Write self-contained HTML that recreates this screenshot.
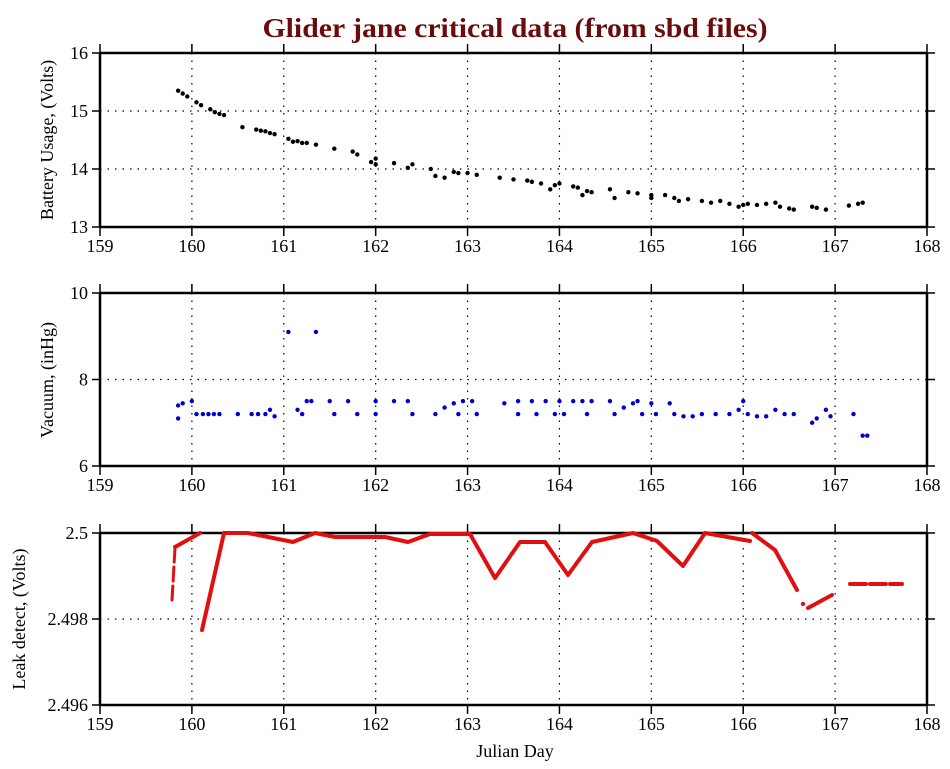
<!DOCTYPE html>
<html><head><meta charset="utf-8"><style>
html,body{margin:0;padding:0;background:#fff;}
svg{display:block;font-family:"Liberation Serif",serif;}
</style></head><body>
<svg id="s" width="950" height="769" viewBox="0 0 950 769" xmlns="http://www.w3.org/2000/svg">
<text x="515" y="37" text-anchor="middle" font-size="27" font-weight="bold" fill="#6b0c0c" textLength="505" lengthAdjust="spacingAndGlyphs">Glider jane critical data (from sbd files)</text>
<g id="g"></g>
<text x="515" y="757" text-anchor="middle" font-size="18">Julian Day</text>
<text transform="translate(53,140) rotate(-90)" text-anchor="middle" font-size="18">Battery Usage, (Volts)</text>
<text transform="translate(53,380) rotate(-90)" text-anchor="middle" font-size="18">Vacuum, (inHg)</text>
<text transform="translate(25,619) rotate(-90)" text-anchor="middle" font-size="18">Leak detect, (Volts)</text>
</svg>
<script>
const NS="http://www.w3.org/2000/svg",G=document.getElementById('g');
function el(t,a,txt){const e=document.createElementNS(NS,t);for(const k in a)e.setAttribute(k,a[k]);if(txt!==undefined)e.textContent=txt;G.appendChild(e);return e;}
const X0=100,X1=927,xs=d=>X0+(d-159)*(X1-X0)/9;
function panel(top,bot,ylabs){
  // grid
  for(let d=160;d<=167;d++)el('line',{x1:xs(d),x2:xs(d),y1:top,y2:bot,stroke:'#000','stroke-width':1.2,'stroke-dasharray':'1.5,6'});
  const n=ylabs.length-1;
  ylabs.forEach((l,i)=>{const y=bot-(bot-top)*i/n;
    if(i>0&&i<n)el('line',{x1:X0,x2:X1,y1:y,y2:y,stroke:'#000','stroke-width':1.2,'stroke-dasharray':'1.5,6'});
    el('line',{x1:X0-8,x2:X0,y1:y,y2:y,stroke:'#000','stroke-width':1.5});
    el('line',{x1:X1,x2:X1+8,y1:y,y2:y,stroke:'#000','stroke-width':1.5});
    el('text',{x:X0-12,y:y+6,'text-anchor':'end','font-size':18},l);
  });
  for(let d=159;d<=168;d++){const x=xs(d);
    el('line',{x1:x,x2:x,y1:top-9,y2:top,stroke:'#000','stroke-width':1.5});
    el('line',{x1:x,x2:x,y1:bot,y2:bot+9,stroke:'#000','stroke-width':1.5});
    el('text',{x:x,y:bot+25,'text-anchor':'middle','font-size':18},d);
  }
  el('line',{x1:X0,x2:X1,y1:top,y2:top,stroke:'#000','stroke-width':2.5});
  el('line',{x1:X0,x2:X1,y1:bot,y2:bot,stroke:'#000','stroke-width':2.5});
  el('line',{x1:X0,x2:X0,y1:top,y2:bot,stroke:'#000','stroke-width':2.5});
  el('line',{x1:X1,x2:X1,y1:top,y2:bot,stroke:'#000','stroke-width':2.5});
}
panel(53,227,['13','14','15','16']);
panel(293,466,['6','8','10']);
panel(533,705,['2.496','2.498','2.5']);
const bat=[[159.85,15.35],[159.9,15.3],[159.95,15.25],[160.05,15.15],[160.1,15.1],[160.2,15.03],[160.25,14.98],[160.3,14.95],[160.35,14.93],[160.55,14.72],[160.7,14.68],[160.75,14.66],[160.8,14.65],[160.85,14.62],[160.9,14.6],[161.05,14.52],[161.1,14.47],[161.15,14.48],[161.2,14.45],[161.25,14.45],[161.35,14.42],[161.55,14.35],[161.75,14.3],[161.8,14.25],[161.95,14.12],[162,14.18],[162,14.08],[162.2,14.1],[162.35,14.02],[162.4,14.08],[162.6,14.0],[162.65,13.88],[162.75,13.85],[162.85,13.95],[162.9,13.93],[163,13.93],[163.1,13.9],[163.35,13.85],[163.5,13.82],[163.65,13.8],[163.7,13.78],[163.8,13.75],[163.9,13.65],[163.95,13.72],[164,13.75],[164.15,13.7],[164.2,13.68],[164.25,13.55],[164.3,13.62],[164.35,13.6],[164.55,13.65],[164.6,13.5],[164.75,13.6],[164.85,13.58],[165,13.5],[165,13.55],[165.15,13.55],[165.25,13.5],[165.3,13.45],[165.4,13.48],[165.55,13.45],[165.65,13.42],[165.75,13.45],[165.85,13.4],[165.95,13.35],[166,13.38],[166.05,13.4],[166.15,13.38],[166.25,13.4],[166.35,13.42],[166.4,13.35],[166.5,13.32],[166.55,13.3],[166.75,13.35],[166.8,13.33],[166.9,13.3],[167.15,13.37],[167.25,13.4],[167.3,13.42]];
bat.forEach(([d,v])=>el('circle',{cx:xs(d),cy:227-(v-13)*58,r:2.2,fill:'#000'}));
const vac=[[159.85,7.4],[159.85,7.1],[159.9,7.45],[160,7.5],[160.05,7.2],[160.12,7.2],[160.18,7.2],[160.24,7.2],[160.3,7.2],[160.5,7.2],[160.65,7.2],[160.72,7.2],[160.8,7.2],[160.85,7.3],[160.9,7.15],[161.05,9.1],[161.35,9.1],[161.15,7.3],[161.2,7.2],[161.25,7.5],[161.3,7.5],[161.5,7.5],[161.55,7.2],[161.7,7.5],[161.8,7.2],[162,7.5],[162,7.2],[162.2,7.5],[162.35,7.5],[162.4,7.2],[162.65,7.2],[162.75,7.35],[162.85,7.45],[162.9,7.2],[162.95,7.5],[163.05,7.5],[163.1,7.2],[163.4,7.45],[163.55,7.5],[163.55,7.2],[163.7,7.5],[163.75,7.2],[163.85,7.5],[163.95,7.2],[164,7.5],[164.05,7.2],[164.15,7.5],[164.25,7.5],[164.3,7.2],[164.35,7.5],[164.55,7.5],[164.6,7.2],[164.7,7.35],[164.8,7.45],[164.85,7.5],[164.9,7.2],[165,7.45],[165.05,7.2],[165.2,7.45],[165.25,7.2],[165.35,7.15],[165.45,7.15],[165.55,7.2],[165.7,7.2],[165.85,7.2],[165.95,7.3],[166,7.5],[166.05,7.2],[166.15,7.15],[166.25,7.15],[166.35,7.3],[166.45,7.2],[166.55,7.2],[166.75,7.0],[166.8,7.1],[166.9,7.3],[166.95,7.15],[167.2,7.2],[167.3,6.7],[167.35,6.7]];
vac.forEach(([d,v])=>el('circle',{cx:xs(d),cy:466-(v-6)*43.25,r:2.2,fill:'#0000cc'}));
const R='#e01010';
function pl(p,extra){const a={points:p,fill:'none',stroke:R,'stroke-width':4,'stroke-linejoin':'round','stroke-linecap':'round'};Object.assign(a,extra||{});el('polyline',a);}
pl('172,600 175,548',{'stroke-width':3,'stroke-dasharray':'14,5'});
pl('175,547 200,533');
pl('202,630 224,533 248,533 293,542 315,533 335,537 385,537 408,542 430,534 470,534 495,578 520,542 545,542 568,575 592,542 633,533 657,541 683,566 705,533 750,541');
pl('752,533 775,550 797,590');
el('circle',{cx:803,cy:604,r:2.2,fill:R});
pl('808,608 832,595');
pl('850,584 902,584',{'stroke-dasharray':'16,4'});
</script>
</body></html>
